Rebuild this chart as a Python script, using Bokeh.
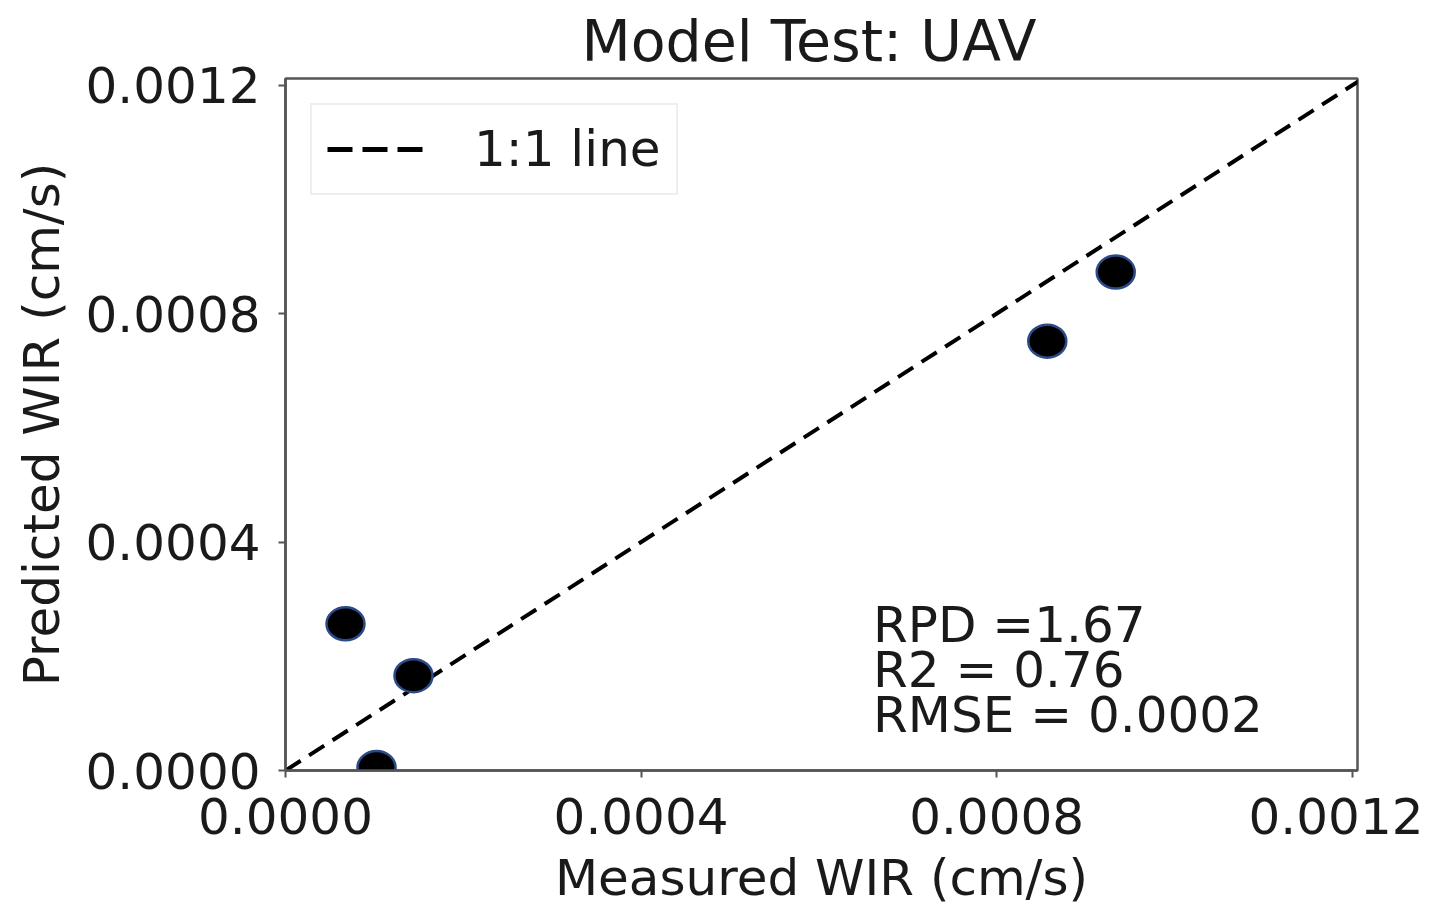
from bokeh.plotting import figure
from bokeh.models import (Range1d, FixedTicker, PrintfTickFormatter, Label,
                          Legend, LegendItem, ColumnDataSource)
from bokeh.embed import file_html
from bokeh.resources import INLINE

# ---- data ----
measured = [0.0000675, 0.000144, 0.0001024, 0.000857, 0.000934]
predicted = [0.000257, 0.000166, 0.0000052, 0.000752, 0.000873]
line_x = [0.0, 0.00121]
line_y = [0.0, 0.00121]
ticks = [0.0, 0.0004, 0.0008, 0.0012]
stats_text = "RPD =1.67\nR2 = 0.76\nRMSE = 0.0002"
title_text = "Model Test: UAV"
x_label = "Measured WIR (cm/s)"
y_label = "Predicted WIR (cm/s)"
legend_label = "1:1 line"

FONT = "DejaVu Sans"
W, H = 1423, 909

p = figure(width=W, height=H, output_backend="svg", toolbar_location=None,
           x_range=Range1d(0, 0.001206), y_range=Range1d(0, 0.001212),
           min_border_left=285, min_border_right=W - 1357,
           min_border_top=78, min_border_bottom=H - 771)

p.title.text = title_text
p.title.align = "left"
p.title.offset = 296
p.title.text_font = FONT
p.title.text_font_size = "57px"
p.title.text_font_style = "normal"
p.title.text_color = "#1a1a1a"
p.title.standoff = 9

p.grid.visible = False
p.outline_line_color = "#555555"
p.outline_line_width = 2.5
p.background_fill_color = "white"
p.border_fill_color = "white"

for ax in (p.xaxis[0], p.yaxis[0]):
    ax.ticker = FixedTicker(ticks=ticks)
    ax.formatter = PrintfTickFormatter(format="%.4f")
    ax.major_label_text_font = FONT
    ax.major_label_text_font_size = "50px"
    ax.major_label_text_color = "#1a1a1a"
    ax.axis_label_text_font = FONT
    ax.axis_label_text_font_size = "50px"
    ax.axis_label_text_font_style = "normal"
    ax.axis_label_text_color = "#1a1a1a"
    ax.axis_line_color = "#555555"
    ax.axis_line_width = 2.5
    ax.major_tick_line_color = "#555555"
    ax.major_tick_line_width = 2
    ax.major_tick_out = 7
    ax.major_tick_in = 0
    ax.minor_tick_line_color = None

p.xaxis.axis_label = x_label
p.yaxis.axis_label = y_label
p.xaxis.major_label_standoff = 20
p.xaxis.axis_label_standoff = 12
p.yaxis.major_label_standoff = 18
p.yaxis.axis_label_standoff = 12

r_line = p.line(line_x, line_y, line_color="black", line_width=4, line_dash="18 10")
# legend-only proxy (off-range, so it is not visible in the plot) with the legend's dash style
r_proxy = p.line([-1.0, -0.9], [-1.0, -0.9], line_color="black", line_width=5,
                 line_dash="25 10")

src = ColumnDataSource(dict(x=measured, y=predicted))
p.ellipse(x="x", y="y", width=38, height=33, width_units="screen", height_units="screen",
          source=src, fill_color="black", line_color="#2b4a8a", line_width=2.5)

stats = Label(x=0.000661, y=0.000306, text=stats_text, text_font=FONT,
              text_font_size="50px", text_color="#1a1a1a", text_baseline="top",
              text_line_height=0.78)
p.add_layout(stats)

legend = Legend(items=[LegendItem(label=legend_label, renderers=[r_proxy])],
                location="top_left", label_text_font=FONT,
                label_text_font_size="50px", label_text_color="#1a1a1a",
                glyph_width=105, glyph_height=30, label_standoff=42,
                padding=15, margin=25, border_line_color="#dddddd",
                border_line_width=2, background_fill_alpha=1.0)
p.add_layout(legend)

open("out.html", "w").write(file_html(p, INLINE))
